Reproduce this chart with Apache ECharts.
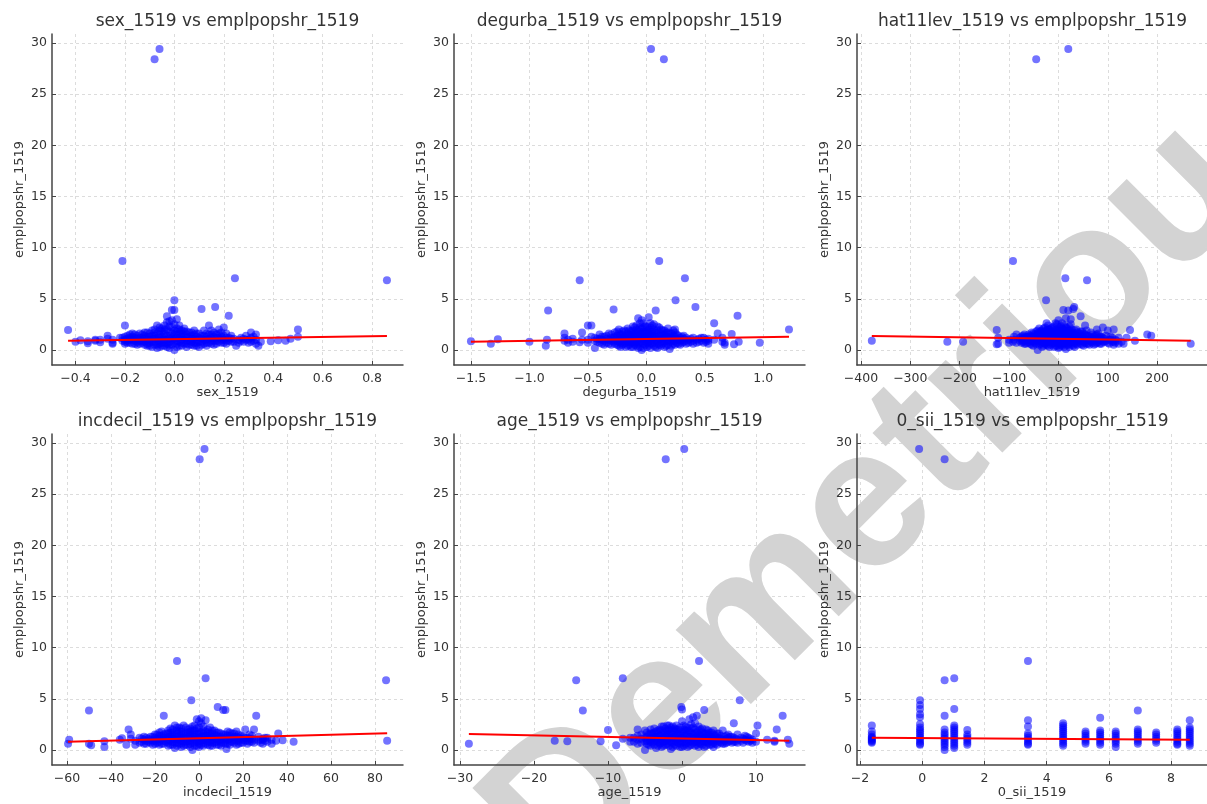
<!DOCTYPE html>
<html>
<head>
<meta charset="utf-8">
<script src="https://cdn.jsdelivr.net/npm/echarts@6/dist/echarts.min.js"></script>
<style>
html,body{margin:0;padding:0;background:#fff;}
#chart{width:1207px;height:804px;}
</style>
</head>
<body>
<div id="chart"></div>
<script>
// ---------- DATA ----------
// Each entry: [x value, [emplpopshr_1519 values at that x]]
const sexCols = [
  [-0.43,[1.95]],[-0.40,[0.8]],[-0.38,[0.95]],[-0.35,[0.65,0.85]],[-0.32,[0.9,1.0]],[-0.30,[0.75,1.0]],
  [-0.27,[1.4,1.1]],[-0.25,[0.6,0.7,1.0]],[-0.22,[1.2]],[-0.21,[8.7]],[-0.20,[2.4,0.8,1.0,1.3,0.6]],
  [-0.19,[1.1,0.9,1.4,0.7]],[-0.17,[1.0,1.3,0.6,1.6]],[-0.15,[0.8,1.1,1.4,0.5]],[-0.13,[0.9,1.2,1.5,0.7]],
  [-0.11,[0.6,1.0,1.3,1.7,0.4]],[-0.09,[0.8,1.1,1.4,0.3,1.9]],[-0.08,[28.4]],[-0.07,[0.5,0.9,1.2,1.6,2.4,0.2]],
  [-0.06,[29.4]],[-0.05,[0.7,1.0,1.3,1.8,2.1,0.4]],[-0.03,[0.6,1.0,1.4,2.0,2.7,3.3,0.3]],
  [-0.01,[0.5,0.9,1.2,1.6,2.2,2.9,3.9]],[0.00,[0.0,0.7,1.1,1.5,1.9,2.5,3.9,4.85]],
  [0.02,[0.4,0.8,1.2,1.6,2.0,2.4]],[0.04,[0.6,1.0,1.4,1.8,2.1]],[0.06,[0.5,0.9,1.3,1.7]],
  [0.08,[0.7,1.1,1.5,1.9,0.4]],[0.10,[0.3,0.8,1.2,1.6]],[0.11,[4.0]],[0.12,[0.6,1.0,1.4,1.9]],
  [0.14,[0.7,1.1,1.5,2.4]],[0.16,[0.5,0.9,1.3,1.7]],[0.165,[4.2]],[0.18,[0.8,1.2,1.6,2.0]],
  [0.20,[0.7,1.0,1.4,2.2]],[0.22,[3.35,0.9,1.2]],[0.245,[7.0]],[0.24,[0.8,1.1]],[0.25,[0.4]],
  [0.27,[0.9,1.2]],[0.29,[1.0,1.4]],[0.31,[0.8,1.7,1.2]],[0.33,[1.0,0.6,1.5]],[0.34,[0.4]],[0.35,[0.8]],
  [0.39,[0.85]],[0.42,[0.95]],[0.45,[0.9]],[0.47,[1.1]],[0.50,[2.0,1.3]],[0.86,[6.8]]
];
const sexCore = [
  [-0.21,[0.9,1.2]],[-0.18,[0.7,1.0,1.2,1.5]],[-0.16,[0.6,0.9,1.2,1.5]],[-0.14,[0.6,0.9,1.2,1.6]],
  [-0.12,[0.5,0.8,1.1,1.4,1.7]],[-0.10,[0.4,0.7,1.0,1.3,1.6]],[-0.08,[0.5,0.8,1.1,1.4,1.7,2.0]],
  [-0.06,[0.3,0.6,0.9,1.2,1.5,1.9,2.2]],[-0.04,[0.4,0.7,1.0,1.3,1.6,2.0,2.4]],
  [-0.02,[0.2,0.5,0.8,1.1,1.4,1.8,2.3,2.8]],[0.01,[0.3,0.6,0.9,1.2,1.5,1.8,2.1,3.0]],
  [0.03,[0.4,0.7,1.0,1.3,1.6,1.9]],[0.05,[0.3,0.6,0.9,1.2,1.5,1.8]],[0.07,[0.5,0.8,1.1,1.4,1.7]],
  [0.09,[0.4,0.7,1.0,1.3,1.6]],[0.11,[0.5,0.8,1.1,1.4]],[0.13,[0.4,0.7,1.0,1.3,1.6]],
  [0.15,[0.6,0.9,1.2,1.5,1.9]],[0.17,[0.6,0.9,1.2,1.5]],[0.19,[0.7,1.0,1.3,1.7]],
  [0.21,[0.6,0.9,1.2,1.6]],[0.23,[0.8,1.1,1.4]],[0.26,[0.7,1.0]],[0.28,[0.8,1.1]],[0.30,[0.7,1.0]],
  [0.32,[0.9,1.3]]
];
const degurbaCols = [
  [-1.50,[0.85]],[-1.33,[0.6]],[-1.27,[1.05]],[-1.00,[0.8]],[-0.86,[0.4]],[-0.85,[1.0]],[-0.84,[3.85]],
  [-0.70,[1.6,1.2,0.9]],[-0.67,[0.7,1.0]],[-0.63,[0.8,1.1]],[-0.57,[6.8,0.75]],[-0.55,[1.7,1.0]],
  [-0.50,[2.4,1.0,0.7]],[-0.47,[2.4,1.3]],[-0.44,[0.2,0.9,1.2]],[-0.40,[0.7,1.1,1.5]],[-0.36,[0.9,1.3,0.5]],
  [-0.32,[0.6,1.0,1.6]],[-0.28,[3.95,0.8,1.2]],[-0.25,[0.5,0.9,1.4,1.8]],[-0.22,[0.7,1.1,1.5,0.3]],
  [-0.19,[0.6,1.0,1.3,1.9]],[-0.16,[0.4,0.8,1.2,1.6,2.1]],[-0.13,[0.7,1.0,1.4,1.8,0.3]],
  [-0.10,[0.5,0.9,1.3,1.7,2.2]],[-0.07,[0.6,1.0,1.4,1.9,3.1,0.2]],[-0.04,[0.0,0.8,1.2,1.6,2.1,2.9]],
  [-0.01,[0.5,0.9,1.3,1.7,2.3]],[0.02,[0.4,0.8,1.2,1.6,2.0,3.2]],[0.04,[29.4]],[0.05,[0.6,1.0,1.4,1.8,2.4]],
  [0.08,[0.3,0.9,1.3,1.7,3.85]],[0.11,[0.5,1.0,1.4,2.2,8.7]],[0.14,[0.6,1.1,1.5,1.9]],[0.15,[28.4]],
  [0.17,[0.4,0.9,1.3,1.7]],[0.20,[0.1,0.8,1.2,1.6]],[0.23,[0.6,1.0,1.4,1.9]],[0.25,[4.85]],
  [0.26,[0.7,1.1,1.5]],[0.29,[0.5,0.9,1.2]],[0.32,[0.8,1.1,1.4]],[0.33,[7.0]],[0.36,[0.7,1.0]],
  [0.40,[0.9,1.2,0.6]],[0.42,[4.2]],[0.45,[0.8,1.1]],[0.49,[0.7,1.2]],[0.53,[0.9,1.1,0.6]],
  [0.58,[2.6,1.0]],[0.61,[1.6]],[0.65,[1.2,0.8]],[0.67,[0.5,0.7]],[0.73,[1.55]],[0.75,[0.55]],
  [0.78,[3.35]],[0.79,[0.8]],[0.97,[0.7]],[1.22,[2.0]]
];
const degurbaCore = [
  [-0.42,[0.8,1.1]],[-0.38,[0.6,1.0,1.3]],[-0.34,[0.7,1.1,1.4]],[-0.30,[0.5,0.9,1.2,1.5]],
  [-0.27,[0.6,1.0,1.3,1.7]],[-0.235,[0.4,0.8,1.2,1.6,2.0]],[-0.205,[0.5,0.9,1.2,1.5,1.8]],
  [-0.175,[0.3,0.7,1.1,1.4,1.8]],[-0.145,[0.5,0.9,1.2,1.5,1.9]],[-0.115,[0.3,0.7,1.1,1.5,1.9,2.3]],
  [-0.085,[0.4,0.8,1.2,1.6,2.0,2.4]],[-0.055,[0.3,0.7,1.1,1.5,1.8,2.2,2.6]],
  [-0.025,[0.2,0.6,1.0,1.4,1.8,2.2,2.6]],[0.005,[0.3,0.7,1.1,1.5,1.9,2.3]],
  [0.035,[0.2,0.6,1.0,1.4,1.8,2.2,2.6]],[0.065,[0.4,0.8,1.2,1.6,2.0,2.5]],
  [0.095,[0.2,0.6,1.0,1.5,1.9,2.3]],[0.125,[0.4,0.8,1.2,1.6,2.0]],[0.155,[0.3,0.7,1.1,1.5,1.9]],
  [0.185,[0.5,0.9,1.3,1.7,2.1]],[0.215,[0.4,0.8,1.2,1.6]],[0.245,[0.5,0.9,1.3,1.7,2.0]],
  [0.275,[0.6,1.0,1.4]],[0.305,[0.7,1.0,1.3]],[0.34,[0.6,0.9,1.2]],[0.38,[0.8,1.1]],
  [0.43,[0.7,1.0]],[0.47,[0.9,1.2]],[0.51,[0.8,1.0]]
];
const hatCols = [
  [-378,[0.9]],[-225,[0.8]],[-193,[0.8]],[-125,[1.95,0.55]],[-122,[0.6,1.2]],[-100,[0.7,1.0]],
  [-92,[8.7,0.8]],[-90,[1.0,1.3]],[-85,[1.5,0.7]],[-78,[0.9,1.2]],[-72,[1.1,0.8,1.4]],[-66,[0.6,1.0,1.3]],
  [-60,[0.8,1.2,1.5]],[-54,[0.5,0.9,1.3,1.7]],[-48,[0.7,1.1,1.5]],[-45,[28.4]],[-42,[0.0,0.8,1.2,1.6,1.9]],
  [-36,[0.6,1.0,1.4,1.8]],[-30,[0.4,0.9,1.3,1.7,2.1]],[-25,[4.85,0.7,1.1]],[-24,[0.5,1.5,1.9,2.6]],
  [-18,[0.8,1.2,1.6,2.0,0.3]],[-12,[0.6,1.0,1.4,1.8,2.2]],[-6,[0.4,0.9,1.3,1.7,2.6]],
  [0,[0.2,0.7,1.1,1.5,1.9,2.9]],[5,[0.5,0.9,1.3,1.8,2.3]],[10,[3.9,0.6,1.0,1.4,2.0]],[14,[7.0]],
  [15,[0.1,0.8,1.2,1.6,2.2,3.1]],[20,[29.4,3.85,0.5,1.0,1.4,1.9]],[25,[0.7,1.1,1.5,2.5,3.0]],
  [30,[4.0,0.4,0.9,1.3,1.7]],[32,[4.2]],[36,[0.6,1.0,1.4,2.0]],[42,[0.8,1.2,1.6]],[45,[3.3]],
  [48,[0.5,0.9,1.3,1.8]],[54,[0.7,1.1,1.5,2.4]],[58,[6.8]],[60,[0.6,1.0,1.4]],[66,[0.8,1.2,1.7]],
  [72,[0.5,0.9,1.3]],[78,[0.7,1.1,2.0,1.5]],[84,[0.6,1.0,1.3]],[90,[0.8,2.2,1.2]],[96,[0.9,1.4]],
  [100,[0.7,1.9]],[106,[1.0,1.3]],[112,[0.5,2.0,0.8]],[118,[0.9]],[122,[0.6,1.2]],[128,[0.8]],
  [132,[0.6]],[138,[1.2]],[145,[1.95]],[155,[0.9]],[180,[1.5]],[188,[1.4]],[268,[0.6]]
];
const hatCore = [
  [-75,[0.7,1.0,1.3]],[-69,[0.6,0.9,1.2,1.5]],[-63,[0.7,1.0,1.3]],[-57,[0.6,1.0,1.4]],
  [-51,[0.4,0.8,1.2,1.6]],[-45,[0.6,1.0,1.4,1.8]],[-39,[0.5,0.9,1.3,1.7,2.1]],[-33,[0.3,0.7,1.1,1.5,1.9]],
  [-27,[0.6,1.0,1.4,1.8,2.2]],[-21,[0.4,0.8,1.2,1.6,2.0,2.4]],[-15,[0.5,0.9,1.3,1.7,2.1]],
  [-9,[0.3,0.7,1.1,1.5,1.9,2.3]],[-3,[0.4,0.8,1.2,1.6,2.0,2.5]],[2,[0.3,0.6,1.0,1.4,1.8,2.2]],
  [7,[0.4,0.8,1.2,1.6,2.1,2.6]],[12,[0.3,0.7,1.1,1.5,1.9,2.4]],[17,[0.5,0.9,1.3,1.7,2.1]],
  [22,[0.3,0.7,1.1,1.5,1.9,2.3]],[27,[0.5,0.9,1.3,1.7,2.0]],[33,[0.3,0.7,1.1,1.5,1.9]],
  [39,[0.5,0.9,1.3,1.7]],[45,[0.6,1.0,1.4,1.8]],[51,[0.4,0.8,1.2,1.6]],[57,[0.6,1.0,1.4,1.9]],
  [63,[0.5,0.9,1.3]],[69,[0.7,1.1,1.5]],[75,[0.6,1.0,1.4]],[81,[0.8,1.2,1.6]],[87,[0.6,1.0,1.3]],
  [93,[0.8,1.1]],[103,[0.6,1.0]],[109,[0.8,1.2]],[115,[0.7,1.0]]
];
const incCols = [
  [-59.5,[0.6]],[-59,[1.0]],[-50,[3.85,0.6]],[-49,[0.45]],[-43,[0.3,0.85]],[-36,[1.0]],[-35,[1.15]],
  [-33,[0.5]],[-32,[2.0]],[-31,[1.5,1.1]],[-29,[0.5,0.9]],[-27,[0.7,1.2]],[-25,[0.6,1.0,1.3]],
  [-23,[0.8,1.1]],[-21,[0.5,0.9,1.3]],[-19,[0.7,1.1,1.5]],[-17,[0.6,1.0,1.4,1.8]],[-16,[3.35]],
  [-15,[0.8,1.2,1.6]],[-13,[0.5,0.9,1.3,1.7,2.1]],[-11,[0.2,0.7,1.1,1.5,2.4]],[-10,[8.7]],
  [-9,[0.6,1.0,1.4,1.8,2.2]],[-7,[0.4,0.8,1.2,1.6,2.4]],[-5,[0.5,0.9,1.3,1.7,2.0]],[-3.5,[4.85]],
  [-3,[0.0,0.7,1.1,1.5,1.9,2.3]],[-1,[0.4,0.8,1.2,1.6,2.1,3.0]],[0.3,[28.4]],[1,[0.5,0.9,1.3,1.7,2.6,3.1]],
  [2.5,[29.4]],[3,[7.0,0.6,1.0,1.4,1.8,2.9]],[5,[0.4,0.8,1.2,1.6,2.2]],[7,[0.7,1.1,1.5,1.9]],
  [8.5,[4.2]],[9,[0.5,0.9,1.3,1.7]],[11,[3.9,0.7,1.1,1.5]],[12,[3.9]],[12.5,[0.1]],
  [13,[0.6,1.0,1.4,1.8]],[15,[0.8,1.2,1.6]],[17,[0.5,0.9,1.3,1.8]],[19,[0.7,1.1,1.4]],
  [21,[0.9,1.2,2.0]],[23,[0.8,1.1,1.5]],[25,[0.7,1.0,2.0]],[26,[3.35]],[27,[0.9,1.3]],
  [29,[0.6,1.0,1.1]],[31,[1.2,0.8]],[33,[0.6,1.0]],[35,[0.9]],[36,[1.6]],[38,[0.95]],[43,[0.8]],
  [85,[6.8]],[85.5,[0.9]]
];
const incCore = [
  [-26,[0.8,1.1]],[-24,[0.6,0.9,1.2]],[-22,[0.7,1.0,1.3]],[-20,[0.6,0.9,1.2,1.5]],
  [-18,[0.5,0.8,1.1,1.4,1.7]],[-16,[0.6,0.9,1.2,1.5]],[-14,[0.4,0.7,1.0,1.3,1.6,1.9]],
  [-12,[0.5,0.8,1.1,1.4,1.7,2.0]],[-10,[0.4,0.7,1.0,1.3,1.6,1.9,2.2]],[-8,[0.3,0.6,0.9,1.2,1.5,1.8,2.1]],
  [-6,[0.5,0.8,1.1,1.4,1.7,2.2]],[-4,[0.3,0.6,0.9,1.2,1.5,1.8,2.1]],[-2,[0.4,0.7,1.0,1.3,1.6,1.9,2.4]],
  [0,[0.3,0.6,0.9,1.2,1.5,1.8,2.2,2.8]],[2,[0.4,0.7,1.0,1.3,1.6,1.9,2.3]],[4,[0.5,0.8,1.1,1.4,1.7,2.0]],
  [6,[0.4,0.7,1.0,1.3,1.6,1.9]],[8,[0.5,0.8,1.1,1.4,1.7]],[10,[0.4,0.7,1.0,1.3,1.6]],
  [12,[0.6,0.9,1.2,1.5]],[14,[0.5,0.8,1.1,1.4,1.7]],[16,[0.7,1.0,1.3,1.6]],[18,[0.6,0.9,1.2,1.5]],
  [20,[0.7,1.0,1.3]],[22,[0.6,0.9,1.2]],[24,[0.8,1.1,1.4]],[28,[0.7,1.0]],[30,[0.9,1.2]]
];
const ageCols = [
  [-28.8,[0.6]],[-17.2,[0.9]],[-15.5,[0.85]],[-14.3,[6.8]],[-13.4,[3.85]],[-11,[0.85]],[-10,[1.95]],
  [-8.9,[0.45]],[-8,[7.0,1.1]],[-7,[0.8,1.2]],[-6,[0.6,1.0,1.4,2.0]],[-5,[0.0,0.8,1.2,1.9]],
  [-4.5,[0.5,1.0,1.5]],[-4,[0.7,1.1,1.6]],[-3.5,[0.2,0.9,1.3,1.8]],[-3,[0.6,1.0,1.4,2.0]],
  [-2.5,[0.4,0.8,1.2,1.7,2.3]],[-2.2,[28.4]],[-2,[0.6,1.0,1.5,1.9,2.4]],[-1.5,[0.1,0.8,1.2,1.6,2.2]],
  [-1,[0.5,0.9,1.3,1.8,2.1]],[-0.5,[0.7,1.1,1.5,2.0]],[-0.1,[4.2]],[0,[3.95,0.3,0.8,1.2,1.7,2.8]],
  [0.3,[29.4]],[0.5,[0.6,1.0,1.4,1.9,2.3]],[1,[0.4,0.9,1.3,1.8,3.0]],[1.5,[0.7,1.1,1.5,2.2,3.2]],
  [2,[0.5,0.9,1.3,1.7,3.35]],[2.3,[8.7]],[2.5,[0.6,1.0,1.4,2.0]],[3,[3.9,0.3,0.8,1.2,1.6]],
  [3.5,[0.7,1.1,1.5,1.9]],[4,[0.5,0.9,1.3,1.7]],[4.5,[0.6,1.0,1.4]],[5,[0.8,1.2,1.6]],
  [5.5,[0.6,1.0,1.9]],[6,[0.7,1.1,1.4]],[6.5,[0.9,1.3]],[7,[2.6,0.8,1.2]],[7.5,[0.7,1.5,1.0]],
  [7.8,[4.85]],[8,[0.9,1.2]],[8.5,[1.0,1.4]],[9,[0.8,1.2]],[9.5,[0.7,1.0]],[10,[1.6,0.8]],
  [10.2,[2.4]],[11.5,[1.0]],[12.5,[0.9,0.8]],[12.8,[2.0]],[13.6,[3.35]],[14.3,[1.0]],[14.5,[0.6]]
];
const ageCore = [
  [-6.5,[0.8,1.2]],[-5.5,[0.7,1.1,1.5]],[-4.75,[0.6,0.9,1.3,1.7]],[-4.25,[0.4,0.8,1.2,1.6,2.0]],
  [-3.75,[0.5,0.9,1.3,1.7,2.1]],[-3.25,[0.4,0.8,1.2,1.6,1.9]],[-2.75,[0.3,0.7,1.1,1.5,1.9,2.3]],
  [-2.25,[0.5,0.9,1.3,1.7,2.1]],[-1.75,[0.4,0.8,1.2,1.6,2.0,2.4]],[-1.25,[0.3,0.7,1.1,1.5,1.9,2.3]],
  [-0.75,[0.4,0.8,1.2,1.6,2.0,2.4]],[-0.25,[0.3,0.6,1.0,1.4,1.8,2.2]],[0.25,[0.4,0.8,1.2,1.6,2.0,2.4]],
  [0.75,[0.3,0.7,1.1,1.5,1.9,2.2]],[1.25,[0.5,0.9,1.3,1.7,2.1,2.5]],[1.75,[0.4,0.8,1.2,1.6,2.0,2.6]],
  [2.25,[0.3,0.7,1.1,1.5,1.9,2.3]],[2.75,[0.5,0.9,1.3,1.7,2.1]],[3.25,[0.4,0.8,1.2,1.6,2.0]],
  [3.75,[0.5,0.9,1.3,1.7]],[4.25,[0.3,0.7,1.1,1.5,1.9]],[4.75,[0.5,0.9,1.2,1.6]],[5.25,[0.7,1.1,1.4]],
  [5.75,[0.6,0.9,1.3]],[6.25,[0.8,1.2,1.5]],[6.75,[0.7,1.0,1.3]],[7.25,[0.8,1.1]],[8.25,[0.7,1.1]],
  [8.75,[0.9,1.3]],[9.25,[0.9,1.1]]
];
const siiCols = [
  [-1.62,[2.4,1.8,1.5,1.3,1.1,0.9,0.7,1.0,1.2,0.8]],
  [-0.10,[29.4]],
  [-0.07,[4.85,4.4,4.0,3.5,3.2,2.5,2.2,2.0,1.8,1.6,1.4,1.2,1.0,0.8,0.6,0.5]],
  [0.72,[28.4,6.8,3.35,2.0,1.7,1.5,1.3,1.1,0.9,0.7,0.5,0.3,0.0]],
  [1.03,[7.0,4.0,2.4,2.2,2.0,1.8,1.6,1.4,1.2,1.0,0.8,0.6,0.4,0.2]],
  [1.45,[1.95,1.5,1.3,1.1,0.9,0.7,0.5]],
  [3.40,[8.7,2.9,2.3,1.6,1.4,1.2,1.0,0.8,0.6,0.5]],
  [4.53,[2.6,2.4,2.2,2.0,1.8,1.6,1.4,1.2,1.0,0.8,0.6,0.4]],
  [5.25,[1.8,1.6,1.4,1.2,1.0,0.8,0.6]],
  [5.72,[3.15,1.9,1.7,1.5,1.3,1.1,0.9,0.7,0.5]],
  [6.22,[1.8,1.6,1.4,1.2,1.0,0.8,0.6,0.3]],
  [6.93,[3.85,2.0,1.8,1.6,1.4,1.2,1.0,0.8,0.6]],
  [7.52,[1.7,1.5,1.3,1.1,0.9,0.7]],
  [8.20,[2.0,1.8,1.6,1.4,1.2,1.0,0.8,0.6,0.5]],
  [8.60,[2.9,2.2,2.0,1.8,1.6,1.4,1.2,1.0,0.8,0.6,0.4]]
];
const siiCore = [];

// fitted regression lines (end points)
const sexFit = [[-0.43,0.91],[0.86,1.37]];
const degurbaFit = [[-1.50,0.81],[1.22,1.30]];
const hatFit = [[-378,1.37],[268,0.91]];
const incFit = [[-59.5,0.80],[85.5,1.62]];
const ageFit = [[-28.8,1.55],[14.5,0.90]];
const siiFit = [[-1.62,1.20],[8.60,0.99]];

// tick labels
const sexTicks = [-0.4,-0.2,0,0.2,0.4,0.6,0.8];
const degurbaTicks = [-1.5,-1.0,-0.5,0,0.5,1.0];
const hatTicks = [-400,-300,-200,-100,0,100,200];
const incTicks = [-60,-40,-20,0,20,40,60,80];
const ageTicks = [-30,-20,-10,0,10];
const siiTicks = [-2,0,2,4,6,8];
const yTicks = [0,5,10,15,20,25,30];

const yName = 'emplpopshr_1519';
const xNames = ['sex_1519','degurba_1519','hat11lev_1519','incdecil_1519','age_1519','0_sii_1519'];
const watermarkText = 'Demetriou';

// ---------- LAYOUT ----------
const panels = [
  {cols: sexCols, core: sexCore, fit: sexFit, ticks: sexTicks, dec: 1, range: [-0.495, 0.925]},
  {cols: degurbaCols, core: degurbaCore, fit: degurbaFit, ticks: degurbaTicks, dec: 1, range: [-1.645, 1.357]},
  {cols: hatCols, core: hatCore, fit: hatFit, ticks: hatTicks, dec: 0, range: [-408, 301]},
  {cols: incCols, core: incCore, fit: incFit, ticks: incTicks, dec: 0, range: [-66.8, 92.7]},
  {cols: ageCols, core: ageCore, fit: ageFit, ticks: ageTicks, dec: 0, range: [-30.81, 16.62]},
  {cols: siiCols, core: siiCore, fit: siiFit, ticks: siiTicks, dec: 0, range: [-2.096, 9.154]}
];
const colLeft = [52, 454, 857];
const rowTop = [34, 434];
const PW = 351, PH = 331;
const FONT = '"DejaVu Sans", sans-serif';
const TXT = '#333';

function fmt(v, dec) {
  const s = Math.abs(v).toFixed(dec);
  return (v < 0 ? '\u2212' : '') + s;
}
function flatten(cols) {
  const out = [];
  cols.forEach(c => c[1].forEach(y => out.push([c[0], y])));
  return out;
}

const grids = [], xAxes = [], yAxes = [], series = [], titles = [];
panels.forEach((p, i) => {
  const r = Math.floor(i / 3), c = i % 3;
  const left = colLeft[c], top = rowTop[r];
  grids.push({left: left, top: top, width: PW, height: PH, containLabel: false});
  titles.push({
    text: xNames[i] + ' vs ' + yName,
    left: left + PW / 2, top: top - 21, textAlign: 'center', padding: 0,
    textStyle: {fontFamily: FONT, fontSize: 17, fontWeight: 'normal', color: TXT}
  });
  xAxes.push({
    type: 'value', gridIndex: i, min: p.range[0], max: p.range[1],
    name: xNames[i], nameLocation: 'middle', nameGap: 20,
    nameTextStyle: {fontFamily: FONT, fontSize: 13, color: TXT},
    axisLine: {show: true, onZero: false, lineStyle: {color: '#444', width: 1.5}},
    axisTick: {show: true, inside: true, length: 4, customValues: p.ticks, lineStyle: {color: '#444'}},
    axisLabel: {customValues: p.ticks, margin: 7, fontFamily: FONT, fontSize: 12.5, color: TXT,
      formatter: v => fmt(v, p.dec)},
    splitLine: {show: true, lineStyle: {color: '#d4d4d4', width: 0.8, type: [3, 3]}}
  });
  yAxes.push({
    type: 'value', gridIndex: i, min: -1.47, max: 30.87,
    name: yName, nameLocation: 'middle', nameGap: 26, nameRotate: 90,
    nameTextStyle: {fontFamily: FONT, fontSize: 13, color: TXT},
    axisLine: {show: true, onZero: false, lineStyle: {color: '#444', width: 1.5}},
    axisTick: {show: true, inside: true, length: 4, customValues: yTicks, lineStyle: {color: '#444'}},
    axisLabel: {customValues: yTicks, margin: 5, fontFamily: FONT, fontSize: 12.5, color: TXT,
      formatter: v => fmt(v, 0)},
    splitLine: {show: true, lineStyle: {color: '#d4d4d4', width: 0.8, type: [3, 3]}}
  });
  series.push({
    type: 'scatter', xAxisIndex: i, yAxisIndex: i, data: flatten(p.cols).concat(flatten(p.core)),
    symbolSize: 8, itemStyle: {color: '#0000ff', opacity: 0.55}, z: 2, silent: true
  });
  series.push({
    type: 'line', xAxisIndex: i, yAxisIndex: i, data: p.fit, showSymbol: false, symbol: 'none',
    lineStyle: {color: '#ff0000', width: 2}, z: 3, silent: true
  });
});

const chart = echarts.init(document.getElementById('chart'), null, {renderer: 'canvas'});
chart.setOption({
  animation: false,
  backgroundColor: '#ffffff',
  title: titles,
  grid: grids,
  xAxis: xAxes,
  yAxis: yAxes,
  series: series,
  graphic: [{
    type: 'text', x: 871, y: 506, rotation: 45 * Math.PI / 180, z: -10, silent: true,
    style: {text: watermarkText, font: 'bold 200px "Liberation Sans", sans-serif', fill: '#d3d3d3',
      align: 'center', verticalAlign: 'middle'}
  }]
});
</script>
</body>
</html>
